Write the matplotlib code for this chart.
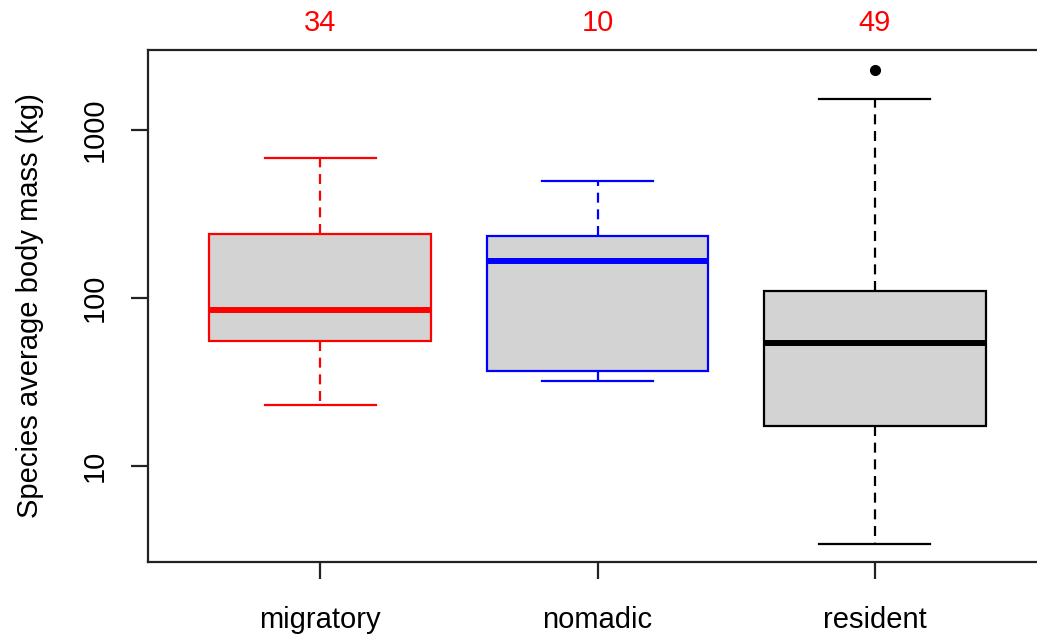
import matplotlib
matplotlib.use("Agg")
import matplotlib.pyplot as plt

# species body mass summaries per movement strategy (kg)
groups = ["migratory", "nomadic", "resident"]
n_species = [34, 10, 49]
whisk_lo = [23.1, 32.1, 3.43]
q1 = [55.5, 36.7, 17.3]
median = [84.9, 166, 54.0]
q3 = [240, 234, 110]
whisk_hi = [681, 497, 1531]
outliers = [[], [], [2276]]
colors = ["red", "blue", "black"]


def main() -> None:
    plt.rcParams["font.family"] = ["Liberation Sans", "DejaVu Sans"]
    plt.rcParams["font.size"] = 21

    fig = plt.figure(figsize=(10.37, 6.36), dpi=100)
    W, H = 1037, 636
    # the plotting region runs slightly past the right edge
    ax = fig.add_axes([148 / W, (H - 562) / H, (1047 - 148) / W, (562 - 50) / H])

    stats = []
    for i, g in enumerate(groups):
        stats.append(dict(label=g, med=median[i], q1=q1[i], q3=q3[i],
                          whislo=whisk_lo[i], whishi=whisk_hi[i], fliers=outliers[i]))

    lw = 1.6
    for i, s in enumerate(stats):
        c = colors[i]
        ax.bxp([s], positions=[i + 1], widths=0.8, patch_artist=True,
               boxprops=dict(facecolor="#d3d3d3", edgecolor=c, linewidth=lw),
               medianprops=dict(color=c, linewidth=4.3, solid_capstyle="butt"),
               whiskerprops=dict(color=c, linewidth=lw, linestyle=(0, (4.5, 3))),
               capprops=dict(color=c, linewidth=lw),
               capwidths=0.4,
               flierprops=dict(marker="o", markerfacecolor="black", markeredgecolor="black",
                               markersize=7, linestyle="none"))

    ax.set_yscale("log")
    ax.set_ylim(2.683, 2995)
    ax.set_xlim(0.38, 3.62)

    ax.set_yticks([10, 100, 1000])
    ax.set_yticklabels(["10", "100", "1000"], rotation=90, va="center")
    ax.yaxis.set_minor_locator(matplotlib.ticker.NullLocator())
    ax.set_xticks([1, 2, 3])
    ax.set_xticklabels(groups)
    ax.tick_params(axis="both", length=12.5, width=lw, color="#222222", pad=16)
    ax.tick_params(axis="x", pad=19)

    for side in ["left", "bottom", "top", "right"]:
        ax.spines[side].set_linewidth(lw)
        ax.spines[side].set_color("#222222")

    ax.set_ylabel("Species average body mass (kg)", labelpad=26)

    # group sizes above each box
    for i, n in enumerate(n_species):
        ax.text(i + 1, 1.053, str(n), color="red", ha="center", va="center",
                transform=ax.get_xaxis_transform())

    fig.savefig("out.png", dpi=100)


if __name__ == '__main__':
    main()
